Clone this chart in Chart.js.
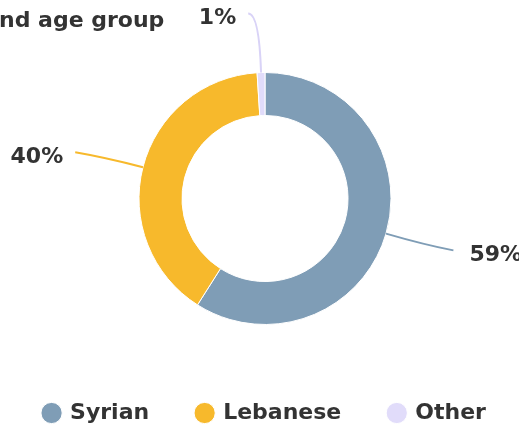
<!DOCTYPE html>
<html lang="en">
<head>
    <meta charset="UTF-8">
    <title>Nationality and age group</title>
    <script src="https://cdn.jsdelivr.net/npm/chart.js@4.4.0/dist/chart.umd.min.js"></script>
    <style>
        html, body { margin: 0; padding: 0; background: #fff; }
        body { width: 519px; height: 427px; position: relative; overflow: hidden; font-family: 'DejaVu Sans', sans-serif; }
        .title { position: absolute; left: -1px; top: 7px; font-size: 22px; font-weight: 700; color: #333; white-space: nowrap; z-index: 2; }
        .chart-box { position: absolute; left: -5px; top: 0; width: 540px; height: 434px; }
    </style>
</head>
<body>
    <div class="title">nd age group</div>
    <div class="chart-box"><canvas id="chart"></canvas></div>

    <script>
        // data
        const categories = ['Syrian', 'Lebanese', 'Other'];
        const shares = [59, 40, 1];
        const valueLabels = ['59%', '40%', '1%'];
        const colors = ['#7f9db6', '#f7b92c', '#e1dcfa'];
        const lineColors = ['#7f9db6', '#f7b92c', '#d9d3f7'];

        // labels outside with curved leader lines
        const leaderLabels = {
            id: 'leaderLabels',
            afterDatasetsDraw(chart) {
                const ctx = chart.ctx;
                const meta = chart.getDatasetMeta(0);
                meta.data.forEach((arc, i) => {
                    const p = arc.getProps(['x', 'y', 'startAngle', 'endAngle', 'outerRadius']);
                    const mid = (p.startAngle + p.endAngle) / 2;
                    const dx = Math.cos(mid), dy = Math.sin(mid);
                    const sx = p.x + dx * p.outerRadius, sy = p.y + dy * p.outerRadius;
                    const side = dx >= 0 ? 1 : -1;
                    let len = 40, run = 29, drop = dy * 20;
                    if (Math.abs(dx) < 0.2) { len = 59; run = 11; drop = 0; }
                    const cx = sx + dx * len, cy = sy + dy * len;
                    const ex = cx + side * run, ey = cy + drop;
                    ctx.save();
                    ctx.strokeStyle = lineColors[i];
                    ctx.lineWidth = 2;
                    ctx.beginPath();
                    ctx.moveTo(sx, sy);
                    ctx.quadraticCurveTo(cx, cy, ex, ey);
                    ctx.stroke();
                    ctx.fillStyle = '#333';
                    ctx.font = "700 22px 'DejaVu Sans'";
                    ctx.textBaseline = 'middle';
                    ctx.textAlign = side > 0 ? 'left' : 'right';
                    ctx.fillText(valueLabels[i], ex + (side > 0 ? 16 : -12), ey + 5);
                    ctx.restore();
                });
            }
        };

        new Chart(document.getElementById('chart'), {
            type: 'doughnut',
            data: {
                labels: categories,
                datasets: [{
                    data: shares,
                    backgroundColor: colors,
                    borderColor: '#fff',
                    borderWidth: 1,
                    radius: 126,
                    cutout: '65.9%'
                }]
            },
            options: {
                responsive: true,
                maintainAspectRatio: false,
                animation: false,
                layout: { padding: { left: 0, top: 43, right: 0, bottom: 0 } },
                plugins: {
                    title: { display: false },
                    tooltip: { enabled: false },
                    legend: {
                        position: 'bottom',
                        labels: {
                            usePointStyle: true,
                            pointStyle: 'circle',
                            boxWidth: 15,
                            boxHeight: 15,
                            padding: 48,
                            color: '#333',
                            font: { family: "'DejaVu Sans'", size: 22, weight: '700' }
                        }
                    }
                }
            },
            plugins: [leaderLabels]
        });
    </script>
</body>
</html>
